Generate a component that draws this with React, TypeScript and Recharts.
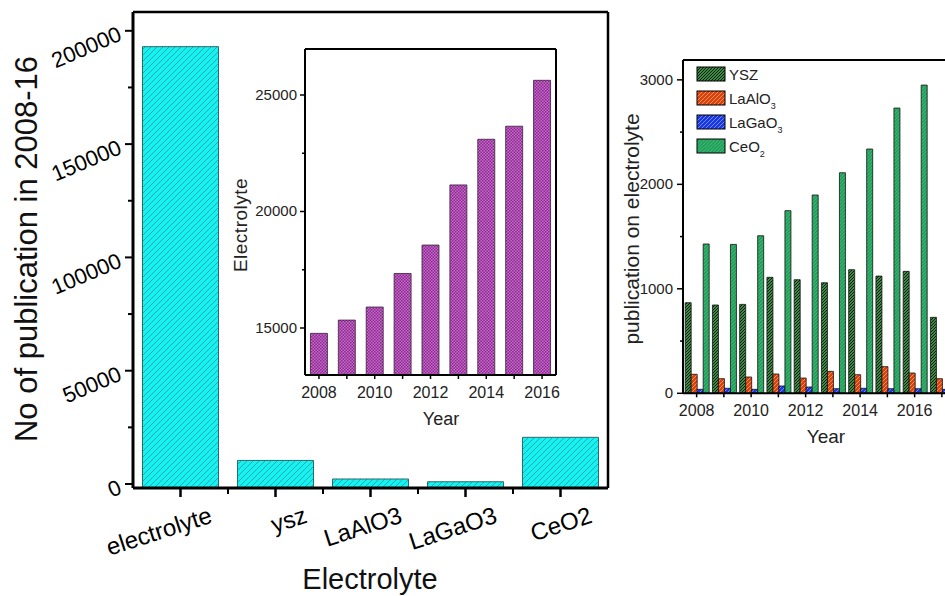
import React from 'react';
import { BarChart, Bar, XAxis, YAxis, Legend } from 'recharts';

// main chart: total publications 2008-16
const electrolytes = ['electrolyte', 'ysz', 'LaAlO3', 'LaGaO3', 'CeO2'];
const totalPubs = [193000, 10400, 2200, 1000, 20600];
const mainTicks = [0, 25000, 50000, 75000, 100000, 125000, 150000, 175000, 200000];

// inset: "electrolyte" publications per year
const insetYears = ['2008', '2009', '2010', '2011', '2012', '2013', '2014', '2015', '2016'];
const electrolytePerYear = [14770, 15340, 15900, 17340, 18560, 21140, 23100, 23660, 25630];
const insetTicks = [15000, 17500, 20000, 22500, 25000];

// right chart: per material per year
const rightYears = ['2008', '2009', '2010', '2011', '2012', '2013', '2014', '2015', '2016', '2017'];
const yszPerYear = [867, 845, 851, 1110, 1087, 1058, 1183, 1122, 1167, 727];
const laAlO3PerYear = [182, 140, 156, 185, 146, 210, 178, 255, 194, 140];
const laGaO3PerYear = [38, 48, 38, 70, 60, 44, 48, 44, 44, 38];
const ceO2PerYear = [1429, 1425, 1508, 1748, 1898, 2111, 2338, 2730, 2950, null];
const rightTicks = [0, 500, 1000, 1500, 2000, 2500, 3000];
const legendOrder = ['YSZ', 'LaAlO3', 'LaGaO3', 'CeO2'];

const mainData = electrolytes.map((name, i) => ({ name, total: totalPubs[i] }));
const insetData = insetYears.map((year, i) => ({ year, count: electrolytePerYear[i] }));
const rightData = rightYears.map((year, i) => ({
  year,
  ysz: yszPerYear[i],
  laalo3: laAlO3PerYear[i],
  lagao3: laGaO3PerYear[i],
  ceo2: ceO2PerYear[i],
}));

const FONT = '"Liberation Sans", Arial, sans-serif';
const NARROW = '"Liberation Sans Narrow", "Arial Narrow", "Liberation Sans", sans-serif';

const MAIN_DOMAIN = [-1765, 208300];
const MAIN_BAND = (620 - 12 - 133) / 5;

const MainYTick = ({ x, y, payload }: any) => {
  const major = payload.value % 50000 === 0;
  const tx = x - 10;
  const ty = y + 9;
  return (
    <g>
      <line x1={x} x2={x - (major ? 8 : 5)} y1={y} y2={y} stroke="#000" strokeWidth={2} />
      {major && (
        <text x={tx} y={ty} textAnchor="end" fontSize={22} fill="#000" transform={`rotate(-23 ${tx} ${ty})`}>
          {payload.value}
        </text>
      )}
    </g>
  );
};

const MainXTick = ({ x, y, payload, index }: any) => {
  const tx = x + 33;
  const ty = y + 34;
  return (
    <g>
      <line x1={x} x2={x} y1={y} y2={y + 9} stroke="#000" strokeWidth={2.5} />
      {index > 0 && (
        <line x1={x - MAIN_BAND / 2} x2={x - MAIN_BAND / 2} y1={y} y2={y + 6} stroke="#000" strokeWidth={2} />
      )}
      <text x={tx} y={ty} textAnchor="end" fontSize={24} fill="#000" transform={`rotate(-18 ${tx} ${ty})`}>
        {payload.value}
      </text>
    </g>
  );
};

const InsetYTick = ({ x, y, payload }: any) => {
  const major = payload.value % 5000 === 0;
  return (
    <g>
      <line x1={x} x2={x - (major ? 5 : 3)} y1={y} y2={y} stroke="#000" strokeWidth={1.5} />
      {major && (
        <text x={x - 8} y={y + 5} textAnchor="end" fontSize={15} fontFamily={NARROW} fill="#222">
          {payload.value}
        </text>
      )}
    </g>
  );
};

const YearTick = ({ x, y, payload, index }: any) => (
  <g>
    <line x1={x} x2={x} y1={y} y2={y + 4} stroke="#000" strokeWidth={1.5} />
    {index % 2 === 0 && (
      <text x={x} y={y + 23} textAnchor="middle" fontSize={16} fontFamily={NARROW} fill="#222">
        {payload.value}
      </text>
    )}
  </g>
);

const RightYTick = ({ x, y, payload }: any) => {
  const major = payload.value % 1000 === 0;
  return (
    <g>
      <line x1={x} x2={x - (major ? 6 : 3)} y1={y} y2={y} stroke="#000" strokeWidth={1.5} />
      {major && (
        <text x={x - 10} y={y + 5} textAnchor="end" fontSize={15} fontFamily={NARROW} fill="#222">
          {payload.value}
        </text>
      )}
    </g>
  );
};

const RightLegend = ({ payload }: any) => {
  const items = [...(payload || [])].sort(
    (a: any, b: any) => legendOrder.indexOf(a.value) - legendOrder.indexOf(b.value)
  );
  return (
    <svg width={100} height={96} style={{ display: 'block' }}>
      {items.map((p: any, i: number) => {
        const y = i * 24;
        const m = /^(.*?)(\d)$/.exec(p.value);
        return (
          <g key={p.value}>
            <rect x={1} y={y + 1} width={28} height={14} fill={p.color} stroke="#000" strokeWidth={1} />
            <text x={33} y={y + 14} fontSize={15} fontFamily={NARROW} fill="#222">
              {m ? m[1] : p.value}
              {m && (
                <tspan dy={5} fontSize={9}>
                  {m[2]}
                </tspan>
              )}
            </text>
          </g>
        );
      })}
    </svg>
  );
};

const hatch = (id: string, base: string, line: string, size: number, w: number) => (
  <pattern id={id} width={size} height={size} patternUnits="userSpaceOnUse">
    <rect width={size} height={size} fill={base} />
    <path
      d={`M0,${size} L${size},0 M${-size / 2},${size / 2} L${size / 2},${-size / 2} M${size / 2},${size * 1.5} L${size * 1.5},${size / 2}`}
      stroke={line}
      strokeWidth={w}
    />
  </pattern>
);

const App: React.FC = () => {
  return (
    <div
      style={{
        position: 'absolute',
        left: 0,
        top: 0,
        width: 945,
        height: 596,
        overflow: 'hidden',
        background: '#fff',
        fontFamily: FONT,
      }}
    >
      <svg width={0} height={0} style={{ position: 'absolute' }}>
        <defs>
          {hatch('mainHatch', '#14F2F2', '#2A9FA3', 6, 0.9)}
          <pattern id="insetDots" width={3} height={3} patternUnits="userSpaceOnUse">
            <rect width={3} height={3} fill="#D264D4" />
            <rect width={1.5} height={1.5} fill="#7E3084" />
            <rect x={1.5} y={1.5} width={1.5} height={1.5} fill="#7E3084" />
          </pattern>
          {hatch('hYsz', '#3C8A46', '#0A1F0E', 3, 1)}
          {hatch('hLaAlO3', '#D8420F', '#F49058', 4, 1)}
          {hatch('hLaGaO3', '#1C36DE', '#6C8CFF', 4, 1)}
          {hatch('hCeO2', '#33BE72', '#1E8049', 3.5, 0.9)}
        </defs>
      </svg>

      {/* main chart */}
      <div style={{ position: 'absolute', left: 0, top: 0 }}>
        <BarChart
          width={620}
          height={596}
          data={mainData}
          margin={{ top: 11, right: 11, bottom: 48, left: 33 }}
          barCategoryGap="10%"
          style={{ fontFamily: FONT }}
        >
          <XAxis
            dataKey="name"
            height={60}
            tickSize={0}
            tickMargin={0}
            tickLine={false}
            interval={0}
            tick={<MainXTick />}
            axisLine={{ stroke: '#000', strokeWidth: 3 }}
            label={{
              content: () => (
                <text x={370} y={589} textAnchor="middle" fontSize={29} fill="#111">
                  Electrolyte
                </text>
              ),
            }}
          />
          <XAxis xAxisId="top" dataKey="name" orientation="top" height={1} tick={false} tickLine={false} axisLine={{ stroke: '#000', strokeWidth: 2.5 }} />
          <YAxis
            width={100}
            domain={MAIN_DOMAIN}
            allowDataOverflow
            ticks={mainTicks}
            interval={0}
            tickSize={0}
            tickMargin={0}
            tickLine={false}
            tick={<MainYTick />}
            axisLine={{ stroke: '#000', strokeWidth: 3 }}
            label={{
              content: () => (
                <text x={37} y={249} textAnchor="middle" fontSize={31} fill="#111" transform="rotate(-90 37 249)">
                  No of publication in 2008-16
                </text>
              ),
            }}
          />
          <YAxis yAxisId="right" orientation="right" width={1} type="number" domain={[0, 1]} tick={false} tickLine={false} axisLine={{ stroke: '#000', strokeWidth: 2.5 }} />
          <Bar
            dataKey={(d: any) => [MAIN_DOMAIN[0], d.total]}
            fill="url(#mainHatch)"
            stroke="#2D6A6C"
            strokeWidth={1}
            isAnimationActive={false}
          />
        </BarChart>
      </div>

      {/* inset chart */}
      <div style={{ position: 'absolute', left: 200, top: 30 }}>
        <BarChart
          width={370}
          height={400}
          data={insetData}
          margin={{ top: 18, right: 13, bottom: 25, left: 45 }}
          barCategoryGap="19.5%"
          style={{ fontFamily: FONT }}
        >
          <XAxis
            dataKey="year"
            height={30}
            tickSize={0}
            tickMargin={0}
            tickLine={false}
            interval={0}
            tick={<YearTick />}
            axisLine={{ stroke: '#000', strokeWidth: 2 }}
            label={{
              content: () => (
                <text x={241} y={395} textAnchor="middle" fontSize={18} fill="#222">
                  Year
                </text>
              ),
            }}
          />
          <XAxis xAxisId="top" dataKey="year" orientation="top" height={1} tick={false} tickLine={false} axisLine={{ stroke: '#000', strokeWidth: 2 }} />
          <YAxis
            width={60}
            domain={[12983, 26974]}
            allowDataOverflow
            ticks={insetTicks}
            interval={0}
            tickSize={0}
            tickMargin={0}
            tickLine={false}
            tick={<InsetYTick />}
            axisLine={{ stroke: '#000', strokeWidth: 2 }}
            label={{
              content: () => (
                <text x={47} y={195} textAnchor="middle" fontSize={19} fill="#222" letterSpacing={0.5} transform="rotate(-90 47 195)">
                  Electrolyte
                </text>
              ),
            }}
          />
          <YAxis yAxisId="right" orientation="right" width={1} type="number" domain={[0, 1]} tick={false} tickLine={false} axisLine={{ stroke: '#000', strokeWidth: 2 }} />
          <Bar dataKey="count" fill="url(#insetDots)" stroke="#3A1F3A" strokeWidth={0.8} isAnimationActive={false} />
        </BarChart>
      </div>

      {/* right chart */}
      <div style={{ position: 'absolute', left: 600, top: 0 }}>
        <BarChart
          width={380}
          height={460}
          data={rightData}
          margin={{ top: 59, right: 24.5, bottom: 26.7, left: 13 }}
          barCategoryGap="8%"
          barGap={0}
          style={{ fontFamily: FONT }}
        >
          <XAxis
            dataKey="year"
            height={40}
            tickSize={0}
            tickMargin={0}
            tickLine={false}
            interval={0}
            tick={<YearTick />}
            axisLine={{ stroke: '#000', strokeWidth: 2 }}
            label={{
              content: () => (
                <text x={226} y={443} textAnchor="middle" fontSize={19} fill="#222">
                  Year
                </text>
              ),
            }}
          />
          <XAxis xAxisId="top" dataKey="year" orientation="top" height={1} tick={false} tickLine={false} axisLine={{ stroke: '#000', strokeWidth: 2 }} />
          <YAxis
            width={70}
            domain={[0, 3190]}
            allowDataOverflow
            ticks={rightTicks}
            interval={0}
            tickSize={0}
            tickMargin={0}
            tickLine={false}
            tick={<RightYTick />}
            axisLine={{ stroke: '#000', strokeWidth: 2 }}
            label={{
              content: () => (
                <text x={39} y={229} textAnchor="middle" fontSize={21} fill="#222" transform="rotate(-90 39 229)">
                  publication on electrolyte
                </text>
              ),
            }}
          />
          <Legend
            layout="vertical"
            align="center"
            verticalAlign="middle"
            content={<RightLegend />}
            wrapperStyle={{ left: 96, top: 66, width: 100, height: 96 }}
          />
          <Bar name="YSZ" dataKey="ysz" fill="url(#hYsz)" stroke="#111" strokeWidth={0.8} isAnimationActive={false} />
          <Bar name="LaAlO3" dataKey="laalo3" fill="url(#hLaAlO3)" stroke="#111" strokeWidth={0.8} isAnimationActive={false} />
          <Bar name="LaGaO3" dataKey="lagao3" fill="url(#hLaGaO3)" stroke="#111" strokeWidth={0.8} isAnimationActive={false} />
          <Bar name="CeO2" dataKey="ceo2" fill="url(#hCeO2)" stroke="#111" strokeWidth={0.8} isAnimationActive={false} />
        </BarChart>
      </div>
    </div>
  );
};

export default App;
